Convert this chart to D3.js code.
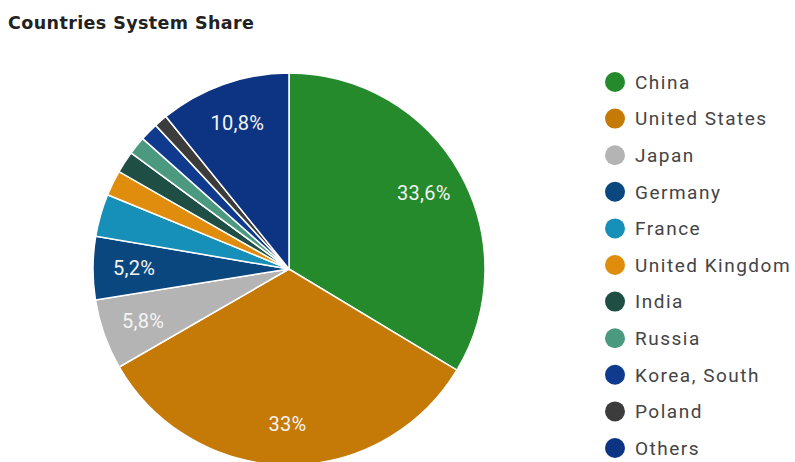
<!DOCTYPE html>
<html>
<head>
<meta charset="utf-8">
<script src="https://cdn.jsdelivr.net/npm/d3@7"></script>
<style>
  body { margin: 0; background: #fff; }
  text { font-family: "Roboto", sans-serif; }
</style>
</head>
<body>
<div id="chart"></div>
<script>
const countries = ["China", "United States", "Japan", "Germany", "France", "United Kingdom",
  "India", "Russia", "Korea, South", "Poland", "Others"];
const shares = [33.6, 33.0, 5.8, 5.2, 3.5, 2.1, 1.8, 1.5, 1.5, 1.1, 10.8];
const colors = ["#248a2c", "#c57a08", "#b4b4b4", "#0a477f", "#1690b8", "#e08c0c",
  "#1f4e44", "#4b9a80", "#0f3a8e", "#3c3c3c", "#0d3482"];

const width = 795, height = 462;
const cx = 289, cy = 269, radius = 196;

const svg = d3.select("#chart")
  .append("svg")
    .attr("width", width)
    .attr("height", height);

svg.append("text")
  .attr("x", 8)
  .attr("y", 29)
  .style("font-family", "'DejaVu Sans', sans-serif")
  .attr("font-size", 17.5)
  .attr("letter-spacing", 0.4)
  .attr("font-weight", "bold")
  .attr("fill", "#222")
  .text("Countries System Share");

const data = countries.map((c, i) => ({country: c, share: shares[i], color: colors[i]}));

const pie = d3.pie().sort(null).value(d => d.share);
const arc = d3.arc().innerRadius(0).outerRadius(radius);
const labelArc = d3.arc().innerRadius(radius * 0.79).outerRadius(radius * 0.79);

const g = svg.append("g")
  .attr("transform", `translate(${cx},${cy})`);

const arcs = pie(data);

g.selectAll("path")
  .data(arcs)
  .join("path")
    .attr("d", arc)
    .attr("fill", d => d.data.color)
    .attr("stroke", "#fff")
    .attr("stroke-width", 1.5);

// only the big slices get a label
g.selectAll("text")
  .data(arcs.filter(d => d.data.share >= 5))
  .join("text")
    .attr("transform", d => `translate(${labelArc.centroid(d)})`)
    .attr("text-anchor", "middle")
    .attr("dy", "0.35em")
    .attr("font-size", 20)
    .attr("letter-spacing", 0.3)
    .attr("fill", "#f4f4f4")
    .text(d => String(d.data.share).replace(".", ",") + "%");

const legend = svg.append("g")
  .attr("transform", "translate(615,82)");

const item = legend.selectAll("g")
  .data(data)
  .join("g")
    .attr("transform", (d, i) => `translate(0,${i * 36.6})`);

item.append("circle")
  .attr("r", 10)
  .attr("fill", d => d.color);

item.append("text")
  .attr("x", 20)
  .attr("dy", "0.36em")
  .attr("font-size", 19)
  .attr("letter-spacing", 1.5)
  .attr("fill", "#444")
  .text(d => d.country);
</script>
</body>
</html>
